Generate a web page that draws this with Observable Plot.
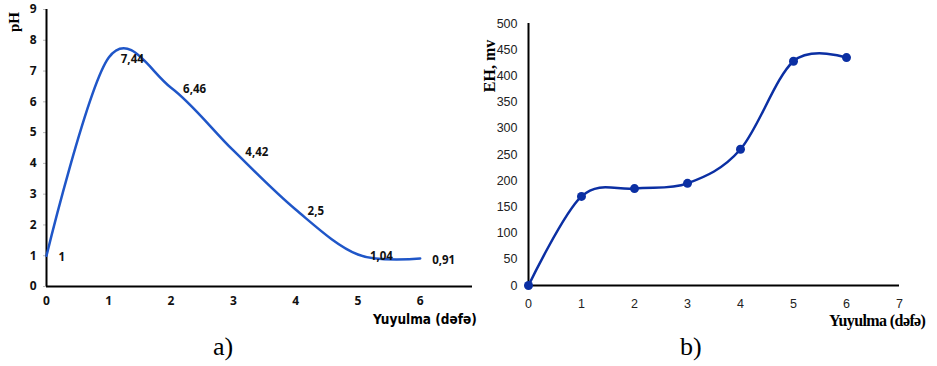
<!DOCTYPE html>
<html><head><meta charset="utf-8">
<script src="https://cdn.jsdelivr.net/npm/d3@7"></script>
<script src="https://cdn.jsdelivr.net/npm/@observablehq/plot@0.6"></script>
<style>
body{margin:0;background:#fff;width:937px;height:366px;position:relative;overflow:hidden}
.p{position:absolute;top:0}
.t{position:absolute;white-space:nowrap;color:#000}
</style></head><body>
<div id="a" class="p" style="left:0"></div>
<div id="b" class="p" style="left:480px"></div>
<div class="t" style="left:373px;top:311px;font:bold 13.5px 'Liberation Sans Narrow','DejaVu Sans Condensed',sans-serif">Yuyulma (dəfə)</div>
<div class="t" style="left:829px;top:312px;font:bold 16px 'Liberation Serif',serif;letter-spacing:-0.6px">Yuyulma (dəfə)</div>
<div class="t" style="left:213px;top:332px;font:26px 'Liberation Serif',serif">a)</div>
<div class="t" style="left:680px;top:332px;font:26px 'Liberation Serif',serif">b)</div>
<script>
// Panel a: pH
const washA = [0, 1, 2, 3, 4, 5, 6];
const pH = [1, 7.44, 6.46, 4.42, 2.5, 1.04, 0.91];
const pHLabels = ["1", "7,44", "6,46", "4,42", "2,5", "1,04", "0,91"];
const xTicksA = [0, 1, 2, 3, 4, 5, 6];
const yTicksA = [0, 1, 2, 3, 4, 5, 6, 7, 8, 9];

// Panel b: EH
const washB = [0, 1, 2, 3, 4, 5, 6];
const EH = [0, 170, 185, 195, 260, 428, 435];
const xTicksB = [0, 1, 2, 3, 4, 5, 6, 7];
const yTicksB = [0, 50, 100, 150, 200, 250, 300, 350, 400, 450, 500];

const dataA = washA.map((x, i) => ({x, y: pH[i], label: pHLabels[i]}));
const dataB = washB.map((x, i) => ({x, y: EH[i]}));

const fmt = d => String(d);

const plotA = Plot.plot({
  width: 480, height: 330,
  marginLeft: 46, marginRight: 8, marginTop: 9, marginBottom: 44,
  x: {domain: [0, 6.84]},
  y: {domain: [0, 9]},
  style: {fontFamily: "'Open Sans', sans-serif", color: "#000", background: "transparent"},
  marks: [
    Plot.axisY({ticks: yTicksA, tickFormat: fmt, tickSize: 3, tickPadding: 7, stroke: "#bbb", label: null, fontSize: 12, fontWeight: "bold", fill: "#111"}),
    Plot.axisX({ticks: xTicksA, tickFormat: fmt, tickSize: 0, tickPadding: 10, label: null, fontSize: 12, fontWeight: "bold", fill: "#111"}),
    Plot.ruleX([0], {stroke: "#000", strokeWidth: 2}),
    Plot.ruleY([0], {stroke: "#000", strokeWidth: 2}),
    Plot.line(dataA, {x: "x", y: "y", curve: "cardinal", stroke: "#1f56c8", strokeWidth: 2.5}),
    Plot.text(dataA, {x: "x", y: "y", text: "label", textAnchor: "start", dx: 12, dy: 2, fontSize: 11.5, fontWeight: "bold", fill: "#111"})
  ]
});
document.getElementById("a").appendChild(plotA);
{
  const t = document.createElementNS("http://www.w3.org/2000/svg", "text");
  t.setAttribute("transform", "translate(19,22) rotate(-90)");
  t.setAttribute("text-anchor", "middle");
  t.setAttribute("font-family", "'Liberation Serif',serif");
  t.setAttribute("font-weight", "bold");
  t.setAttribute("font-size", "15");
  t.textContent = "pH";
  plotA.appendChild(t);
}

const plotB = Plot.plot({
  width: 457, height: 340,
  marginLeft: 48, marginRight: 38, marginTop: 23, marginBottom: 55,
  x: {domain: [0, 7]},
  y: {domain: [0, 500]},
  style: {fontFamily: "'Liberation Sans Narrow', sans-serif", color: "#000", background: "transparent"},
  marks: [
    Plot.axisY({ticks: yTicksB, tickFormat: fmt, tickSize: 0, tickPadding: 11, label: null, fontSize: 12.5, fill: "#222"}),
    Plot.axisX({ticks: xTicksB, tickFormat: fmt, tickSize: 0, tickPadding: 14, label: null, fontSize: 12.5, fill: "#222"}),
    Plot.ruleX([0], {stroke: "#000", strokeWidth: 2}),
    Plot.ruleY([0], {stroke: "#000", strokeWidth: 2}),
    Plot.line(dataB, {x: "x", y: "y", curve: "cardinal", stroke: "#0b2fa3", strokeWidth: 2.5}),
    Plot.dot(dataB, {x: "x", y: "y", r: 4.5, fill: "#0b2fa3"})
  ]
});
document.getElementById("b").appendChild(plotB);
{
  const t = document.createElementNS("http://www.w3.org/2000/svg", "text");
  t.setAttribute("transform", "translate(15,66) rotate(-90)");
  t.setAttribute("text-anchor", "middle");
  t.setAttribute("font-family", "'Liberation Serif',serif");
  t.setAttribute("font-weight", "bold");
  t.setAttribute("font-size", "16");
  t.textContent = "EH, mv";
  plotB.appendChild(t);
}
</script>
</body></html>
